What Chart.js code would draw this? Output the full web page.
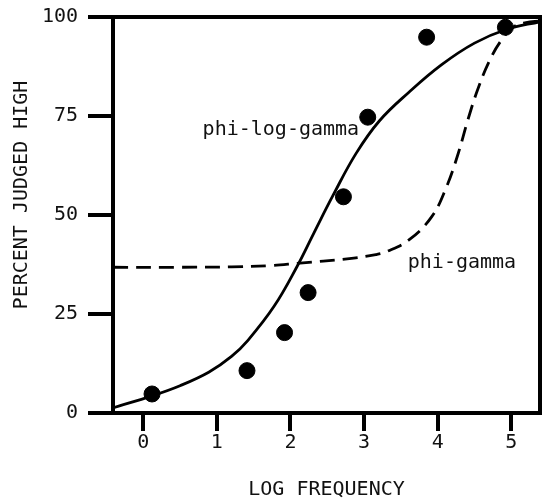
<!DOCTYPE html>
<html>
<head>
<meta charset="utf-8">
<script src="https://cdn.jsdelivr.net/npm/chart.js@4/dist/chart.umd.min.js"></script>
<style>
  html, body { margin: 0; padding: 0; background: #fff; }
  #wrap { width: 549px; height: 502px; }
</style>
</head>
<body>
<div id="wrap"><canvas id="canvas" width="549" height="502"></canvas></div>
<script>
// observed data points (log frequency, percent judged high)
const obsX = [0.12, 1.41, 1.92, 2.24, 2.72, 3.05, 3.85, 4.92];
const obsY = [4.8, 10.7, 20.3, 30.4, 54.6, 74.7, 94.9, 97.4];

// phi-log-gamma fit (solid)
const logGammaX = [-0.41, 0.13, 0.5, 0.89, 1.2, 1.42, 1.78, 2.09, 2.32, 2.58, 2.89, 3.21, 3.61, 4.05, 4.5, 4.94, 5.39];
const logGammaY = [1.3, 4.4, 6.9, 10.3, 14.3, 18.3, 27.0, 37.0, 45.5, 55.0, 65.5, 73.8, 81.0, 87.9, 93.4, 96.9, 98.8];

// phi-gamma fit (dashed)
const gammaX = [-0.41, 0.5, 1.2, 1.7, 2.09, 2.8, 3.16, 3.3, 3.61, 3.92, 4.12, 4.28, 4.41, 4.54, 4.7, 4.86, 5.03, 5.2, 5.39];
const gammaY = [36.8, 36.8, 36.9, 37.2, 37.8, 39.0, 40.0, 40.7, 43.7, 49.6, 57.1, 65.6, 74.0, 81.5, 88.8, 94.0, 97.5, 98.6, 99.0];

const xTicks = [0, 1, 2, 3, 4, 5];
const yTicks = [0, 25, 50, 75, 100];

const curveLabels = ['phi-log-gamma', 'phi-gamma'];
const curveLabelX = [1.87, 4.33];
const curveLabelY = [71.5, 37.9];

const FONT = '"DejaVu Sans Mono", monospace';

const toPts = (xs, ys) => xs.map((x, i) => ({x, y: ys[i]}));

const boxAndText = {
    id: 'boxAndText',
    afterDatasetsDraw(chart) {
        const {ctx, chartArea: a, scales} = chart;
        ctx.save();
        ctx.strokeStyle = '#000';
        ctx.lineWidth = 4;
        ctx.strokeRect(a.left, a.top, a.right - a.left, a.bottom - a.top);

        ctx.fillStyle = '#111';
        ctx.font = '20px ' + FONT;
        ctx.textAlign = 'center';
        ctx.textBaseline = 'middle';
        curveLabels.forEach((t, i) => {
            ctx.fillText(t, scales.x.getPixelForValue(curveLabelX[i]), scales.y.getPixelForValue(curveLabelY[i]));
        });

        // y axis title
        ctx.translate(22, 195);
        ctx.rotate(-Math.PI / 2);
        ctx.fillText('PERCENT JUDGED HIGH', 0, 0);
        ctx.restore();
    }
};

const ctx = document.getElementById('canvas').getContext('2d');
new Chart(ctx, {
    type: 'scatter',
    data: {
        datasets: [{
            data: toPts(logGammaX, logGammaY),
            showLine: true,
            borderColor: '#000',
            borderWidth: 2.8,
            pointRadius: 0,
            tension: 0.4
        }, {
            data: toPts(gammaX, gammaY),
            showLine: true,
            borderColor: '#000',
            borderWidth: 2.8,
            borderDash: [15, 8],
            pointRadius: 0,
            tension: 0.4
        }, {
            data: toPts(obsX, obsY),
            showLine: false,
            pointRadius: 8,
            pointBackgroundColor: '#000',
            pointBorderColor: '#000'
        }]
    },
    options: {
        responsive: false,
        devicePixelRatio: 1,
        animation: false,
        layout: {padding: {top: 17, right: 2, left: 0, bottom: 0}},
        plugins: {legend: {display: false}, tooltip: {enabled: false}},
        scales: {
            x: {
                type: 'linear',
                min: -0.41,
                max: 5.39,
                afterBuildTicks: s => { s.ticks = xTicks.map(v => ({value: v})); },
                afterFit: s => { s.height = 89; s.paddingLeft = 0; s.paddingRight = 0; },
                border: {display: false},
                grid: {drawOnChartArea: false, drawTicks: true, tickLength: 18, tickWidth: 4, lineWidth: 4, color: '#000'},
                ticks: {color: '#111', padding: 0, font: {family: FONT, size: 20}},
                title: {display: true, text: 'LOG FREQUENCY', color: '#111', font: {family: FONT, size: 20}, padding: {top: 14, bottom: 0}}
            },
            y: {
                min: 0,
                max: 100,
                afterBuildTicks: s => { s.ticks = yTicks.map(v => ({value: v})); },
                afterFit: s => { s.width = 113; s.paddingTop = 0; s.paddingBottom = 0; },
                border: {display: false},
                grid: {drawOnChartArea: false, drawTicks: true, tickLength: 25, tickWidth: 4, lineWidth: 4, color: '#000'},
                ticks: {color: '#111', padding: 10, font: {family: FONT, size: 20}}
            }
        }
    },
    plugins: [boxAndText]
});
</script>
</body>
</html>
